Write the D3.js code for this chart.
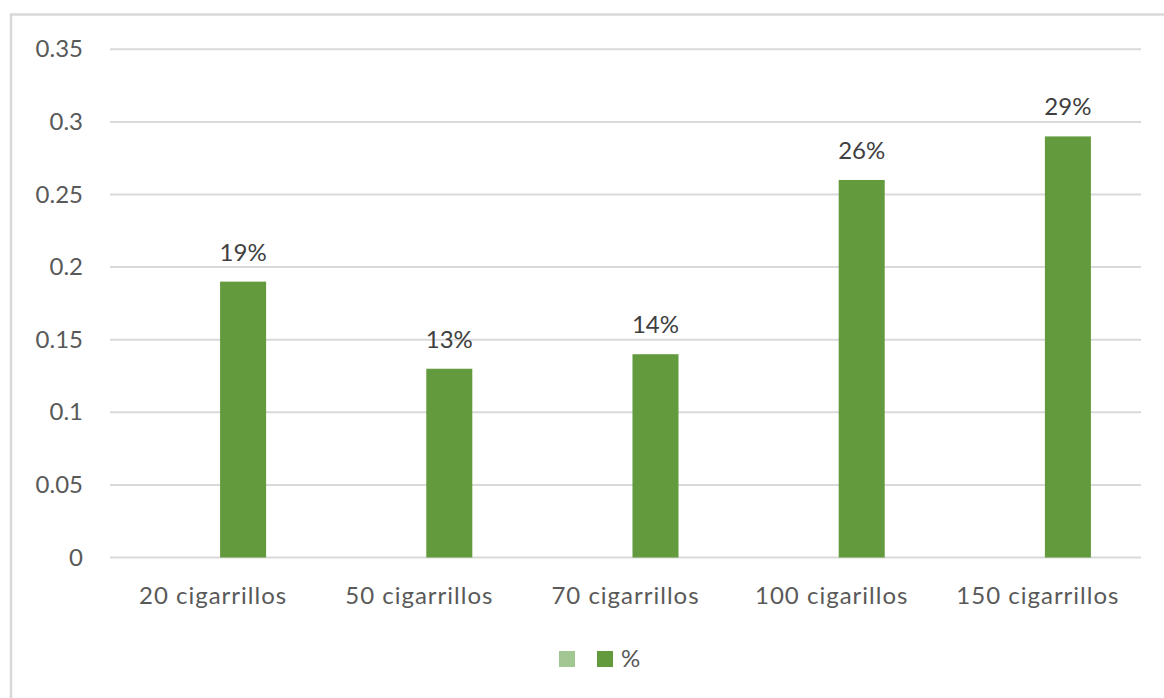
<!DOCTYPE html>
<html><head><meta charset="utf-8">
<script src="https://cdn.jsdelivr.net/npm/d3@7"></script>
<style>
html,body{margin:0;padding:0;background:#fff;}
svg{display:block;font-family:Lato,"Open Sans",sans-serif;}
</style></head>
<body>
<svg id="chart" width="1164" height="698"></svg>
<script>
const categories = ["20 cigarrillos","50 cigarrillos","70 cigarrillos","100 cigarillos","150 cigarrillos"];
const seriesNames = ["", "%"];
const seriesBlank = [null, null, null, null, null];
const seriesPct = [0.19, 0.13, 0.14, 0.26, 0.29];
const yTicks = [0, 0.05, 0.1, 0.15, 0.2, 0.25, 0.3, 0.35];
const yTickLabels = ["0","0.05","0.1","0.15","0.2","0.25","0.3","0.35"];
const colors = ["#A3C793", "#629A3D"];

const svg = d3.select("#chart");
const W = 1164, H = 698;
const plot = {left:110, right:1141, top:49.3, bottom:557.5};
const FONT = "Lato,'Open Sans',sans-serif";

// chart border (left and top visible)
svg.append("rect").attr("x",11).attr("y",14.5).attr("width",W+20).attr("height",H+20)
  .attr("fill","none").attr("stroke","#D9D9D9").attr("stroke-width",2.5);

const x0 = d3.scaleBand().domain(categories).range([plot.left, plot.right]).padding(0);
const x1 = d3.scaleBand().domain(seriesNames.map((d,i)=>i)).range([0, x0.bandwidth()])
  .paddingInner(0.233).paddingOuter(0.835);
const y = d3.scaleLinear().domain([0, 0.35]).range([plot.bottom, plot.top]);

// gridlines
svg.append("g").selectAll("line").data(yTicks).join("line")
  .attr("x1", plot.left).attr("x2", plot.right)
  .attr("y1", d=>y(d)).attr("y2", d=>y(d))
  .attr("stroke","#D9D9D9").attr("stroke-width",2);

// y axis labels
const yAxis = d3.axisLeft(y).tickValues(yTicks).tickFormat((d,i)=>yTickLabels[i]).tickSize(0).tickPadding(0);
const gy = svg.append("g").attr("transform",`translate(83,0)`).call(yAxis);
gy.select(".domain").remove();
gy.selectAll("text").attr("font-size",24).attr("fill","#595959").attr("font-family",FONT);

// x axis labels
const xAxis = d3.axisBottom(x0).tickSize(0).tickPadding(0);
const gx = svg.append("g").attr("transform",`translate(0,${plot.bottom})`).call(xAxis);
gx.select(".domain").remove();
gx.selectAll("text").attr("font-size",24).attr("fill","#595959").attr("dy",null).attr("y",46)
  .attr("letter-spacing",1).attr("font-family",FONT);

// bars
const data = categories.map((c,i)=>({c, vals:[seriesBlank[i], seriesPct[i]]}));
const groups = svg.append("g").selectAll("g").data(data).join("g")
  .attr("transform", d=>`translate(${x0(d.c)},0)`);
groups.selectAll("rect").data(d=>d.vals.map((v,si)=>({v,si})).filter(e=>e.v!=null)).join("rect")
  .attr("x", e=>x1(e.si)).attr("width", x1.bandwidth())
  .attr("y", e=>y(e.v)).attr("height", e=>y(0)-y(e.v))
  .attr("fill", e=>colors[e.si]);

// data labels
groups.selectAll("text.lbl").data(d=>d.vals.map((v,si)=>({v,si})).filter(e=>e.v!=null)).join("text")
  .attr("class","lbl")
  .attr("x", e=>x1(e.si)+x1.bandwidth()/2).attr("y", e=>y(e.v)-21)
  .attr("text-anchor","middle").attr("font-size",24).attr("fill","#404040")
  .text(e=>Math.round(e.v*100)+"%");

// legend
const leg = svg.append("g");
const legItems = [{x:559, name:seriesNames[0], color:colors[0]},{x:597, name:seriesNames[1], color:colors[1]}];
legItems.forEach(it=>{
  leg.append("rect").attr("x",it.x).attr("y",651).attr("width",16).attr("height",16).attr("fill",it.color);
  if(it.name) leg.append("text").attr("x",it.x+24).attr("y",667).attr("font-size",24).attr("fill","#595959").text(it.name);
});
</script>
</body></html>
